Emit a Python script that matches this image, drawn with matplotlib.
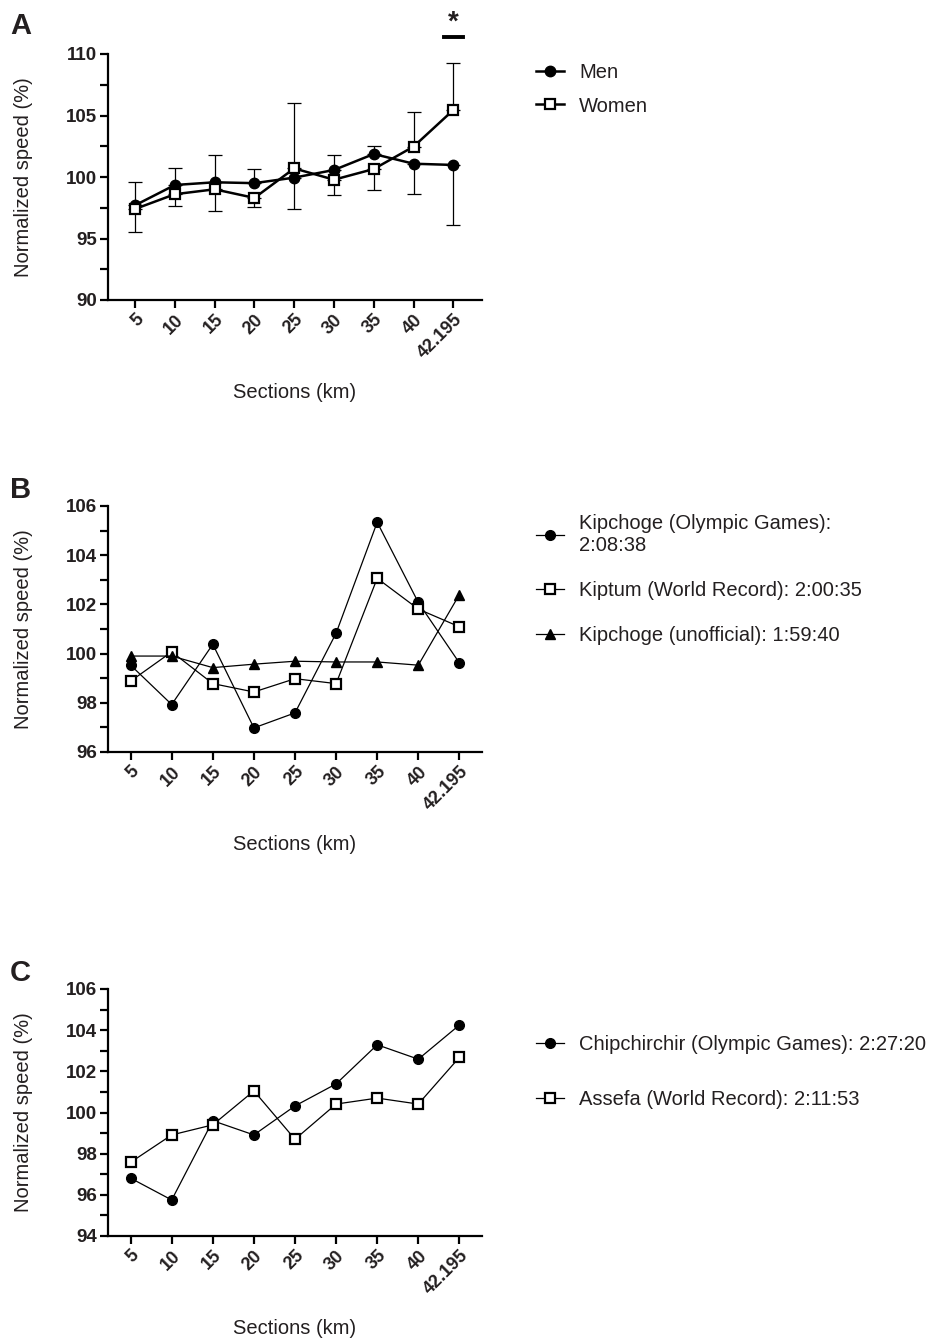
import numpy as np
import matplotlib
matplotlib.use("Agg")
import matplotlib.pyplot as plt
from matplotlib.ticker import MultipleLocator

plt.rcParams['font.family'] = ['Liberation Sans', 'DejaVu Sans']

sections = ["5", "10", "15", "20", "25", "30", "35", "40", "42.195"]

# panel A: mean normalized speed and SD
men = [97.7, 99.35, 99.57, 99.5, 99.95, 100.57, 101.87, 101.08, 100.98]
men_sd = [1.93, 1.35, 2.19, 1.12, 2.55, 1.22, 0.68, 2.49, 4.91]
women = [97.4, 98.6, 99.0, 98.3, 100.7, 99.78, 100.65, 102.47, 105.45]
women_sd = [1.85, 0.93, 1.76, 0.77, 5.29, 1.24, 1.68, 2.81, 3.85]

# panel B: men's elite races
kipchoge_og = [99.53, 97.93, 100.38, 96.98, 97.59, 100.83, 105.34, 102.08, 99.62]
kiptum_wr = [98.88, 100.07, 98.78, 98.44, 98.98, 98.78, 103.06, 101.81, 101.09]
kipchoge_unoff = [99.9, 99.9, 99.43, 99.57, 99.69, 99.66, 99.66, 99.53, 102.4]

# panel C: women's elite races
chipchirchir_og = [96.81, 95.75, 99.6, 98.91, 100.32, 101.39, 103.29, 102.59, 104.25]
assefa_wr = [97.58, 98.91, 99.4, 101.05, 98.7, 100.41, 100.7, 100.41, 102.68]

TXT = '#231f20'
W, H = 930, 1342
fig = plt.figure(figsize=(W / 100, H / 100), dpi=100)


def make_ax(top_px, bottom_px):
    ax = fig.add_axes([108 / W, 1 - bottom_px / H, 374 / W, (bottom_px - top_px) / H])
    for s in ['top', 'right']:
        ax.spines[s].set_visible(False)
    for s in ['left', 'bottom']:
        ax.spines[s].set_linewidth(1.6)
        ax.spines[s].set_color('black')
    ax.tick_params(axis='both', which='major', width=1.6, length=6, color='black',
                   labelsize=13.5, labelcolor=TXT, pad=2)
    ax.tick_params(axis='y', which='minor', width=1.6, length=6, color='black')
    ax.set_xticks(range(len(sections)))
    ax.set_xticklabels(sections, rotation=45, ha='right', rotation_mode='anchor',
                       fontweight='bold', fontsize=13)
    ax.set_xlabel("Sections (km)", fontsize=14.5, color=TXT, va='top')
    ax.set_ylabel("Normalized speed (%)", fontsize=14.5, color=TXT)
    ax.xaxis.set_label_coords(0.5, -0.337)
    ax.yaxis.set_label_coords(-0.2, 0.5)
    return ax


def bold_y(ax):
    for lab in ax.get_yticklabels():
        lab.set_fontweight('bold')


leg_kw = dict(loc='upper left', frameon=False, fontsize=14.5, handlelength=1.4,
              handletextpad=0.75, borderpad=0, borderaxespad=0, labelcolor=TXT)

x = np.arange(len(sections))

# ---------------- A ----------------
axA = make_ax(54, 300)
m = np.array(men)
w = np.array(women)
msd = np.array(men_sd)
wsd = np.array(women_sd)
up = m >= w
eb = dict(fmt='none', ecolor='black', elinewidth=0.9, capsize=4.8, capthick=0.9, zorder=1)
axA.errorbar(x[up], m[up], yerr=[np.zeros(up.sum()), msd[up]], **eb)
axA.errorbar(x[~up], m[~up], yerr=[msd[~up], np.zeros((~up).sum())], **eb)
axA.errorbar(x[~up], w[~up], yerr=[np.zeros((~up).sum()), wsd[~up]], **eb)
axA.errorbar(x[up], w[up], yerr=[wsd[up], np.zeros(up.sum())], **eb)
axA.plot(x, men, color='black', lw=1.8, marker='o', ms=7.5, mfc='black', label='Men', zorder=3)
axA.plot(x, women, color='black', lw=1.8, marker='s', ms=7.5, mfc='white', mew=1.6,
         label='Women', zorder=3)
axA.set_ylim(90, 110)
axA.set_xlim(-0.68, 8.72)
axA.yaxis.set_major_locator(MultipleLocator(5))
axA.yaxis.set_minor_locator(MultipleLocator(2.5))
bold_y(axA)
axA.plot([7.76, 8.24], [111.4, 111.4], color='black', lw=2.8, clip_on=False)
axA.text(8, 111.5, "*", ha='center', va='bottom', fontsize=20, fontweight='bold', color=TXT)
fig.text(10 / W, 1 - 34 / H, "A", fontsize=21, fontweight='bold', color=TXT)
fig.legend(*axA.get_legend_handles_labels(), bbox_to_anchor=(536 / W, 1 - 63 / H),
           labelspacing=0.72, **leg_kw)

# ---------------- B ----------------
axB = make_ax(506, 752)
axB.plot(x, kipchoge_og, color='black', lw=0.9, marker='o', ms=7, mfc='black',
         label="Kipchoge (Olympic Games):\n2:08:38", zorder=3)
axB.plot(x, kiptum_wr, color='black', lw=0.9, marker='s', ms=7.5, mfc='white', mew=1.6,
         label="Kiptum (World Record): 2:00:35", zorder=3)
axB.plot(x, kipchoge_unoff, color='black', lw=0.9, marker='^', ms=7, mfc='black',
         label="Kipchoge (unofficial): 1:59:40", zorder=3)
axB.set_ylim(96, 106)
axB.set_xlim(-0.55, 8.55)
axB.yaxis.set_major_locator(MultipleLocator(2))
axB.yaxis.set_minor_locator(MultipleLocator(1))
bold_y(axB)
fig.text(10 / W, 1 - 498 / H, "B", fontsize=21, fontweight='bold', color=TXT)
fig.legend(*axB.get_legend_handles_labels(), bbox_to_anchor=(536 / W, 1 - 514 / H),
           labelspacing=1.3, **leg_kw)

# ---------------- C ----------------
axC = make_ax(989, 1236)
axC.plot(x, chipchirchir_og, color='black', lw=0.9, marker='o', ms=7, mfc='black',
         label="Chipchirchir (Olympic Games): 2:27:20", zorder=3)
axC.plot(x, assefa_wr, color='black', lw=0.9, marker='s', ms=7.5, mfc='white', mew=1.6,
         label="Assefa (World Record): 2:11:53", zorder=3)
axC.set_ylim(94, 106)
axC.set_xlim(-0.55, 8.55)
axC.yaxis.set_major_locator(MultipleLocator(2))
axC.yaxis.set_minor_locator(MultipleLocator(1))
bold_y(axC)
fig.text(10 / W, 1 - 981 / H, "C", fontsize=21, fontweight='bold', color=TXT)
fig.legend(*axC.get_legend_handles_labels(), bbox_to_anchor=(536 / W, 1 - 1035 / H),
           labelspacing=1.8, **leg_kw)

fig.savefig("out.png", dpi=100)
